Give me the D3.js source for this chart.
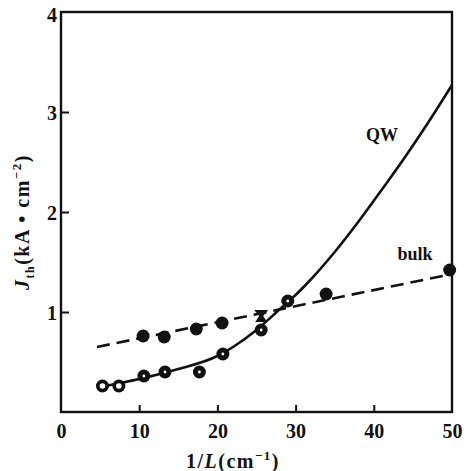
<!DOCTYPE html>
<html>
<head>
<meta charset="utf-8">
<script src="https://cdn.jsdelivr.net/npm/d3@7"></script>
<style>
    body { margin: 0; background: #fff; }
    svg text { font-family: "Liberation Serif", "DejaVu Serif", serif; fill: #111; }
</style>
</head>
<body>
<svg id="chart" width="466" height="471"></svg>
<script>
// QW measured points (1/L, Jth)
const qwX = [5.3, 7.4, 10.6, 13.3, 17.7, 20.7, 25.6, 29.0];
const qwY = [0.26, 0.26, 0.36, 0.40, 0.40, 0.58, 0.82, 1.11];
const qwOpen = [true, true, false, false, false, false, false, false];

// QW fitted curve
const qwCurveX = [5, 10, 15, 20, 22, 25, 28, 30, 32, 35, 38, 41, 44, 47, 50];
const qwCurveY = [0.25, 0.33, 0.43, 0.56, 0.65, 0.82, 1.03, 1.17, 1.33, 1.60, 1.90, 2.22, 2.55, 2.90, 3.27];

// bulk points and dashed line
const bulkX = [10.5, 13.2, 17.3, 20.6, 25.6, 33.9, 49.7];
const bulkY = [0.76, 0.75, 0.83, 0.89, 0.96, 1.18, 1.42];
const bulkHourglass = [false, false, false, false, true, false, false];
const bulkLineX = [4.6, 50];
const bulkLineY = [0.65, 1.38];

const xTicks = [0, 10, 20, 30, 40, 50];
const yTicks = [1, 2, 3, 4];

const svg = d3.select('#chart');
const x = d3.scaleLinear().domain([0, 50]).range([61, 452]);
const y = d3.scaleLinear().domain([0, 4]).range([412, 12]);

// frame
svg.append('rect')
    .attr('x', x(0)).attr('y', y(4))
    .attr('width', x(50) - x(0)).attr('height', y(0) - y(4))
    .attr('fill', 'none').attr('stroke', '#111').attr('stroke-width', 2.4);

// y axis
const yAxis = svg.append('g')
    .attr('transform', 'translate(' + x(0) + ',0)')
    .call(d3.axisLeft(y).tickValues(yTicks).tickFormat(d3.format('d'))
        .tickSizeInner(-8).tickSizeOuter(0).tickPadding(13));
yAxis.select('.domain').remove();
yAxis.selectAll('.tick line').attr('stroke', '#111').attr('stroke-width', 2)
    .attr('display', d => d === 4 ? 'none' : null);
yAxis.selectAll('.tick text')
    .style('font-size', '20px').style('font-weight', 'bold')
    .attr('dy', d => d === 4 ? '0.45em' : '0.35em')
    .attr('x', -4);

// x axis
const xAxis = svg.append('g')
    .attr('transform', 'translate(0,' + y(0) + ')')
    .call(d3.axisBottom(x).tickValues(xTicks).tickFormat(d3.format('d'))
        .tickSizeInner(-7).tickSizeOuter(0).tickPadding(12));
xAxis.select('.domain').remove();
xAxis.selectAll('.tick line').attr('stroke', '#111').attr('stroke-width', 2)
    .attr('display', d => (d === 0 || d === 50) ? 'none' : null);
xAxis.selectAll('.tick text')
    .style('font-size', '20px').style('font-weight', 'bold');

// axis titles
svg.append('text')
    .attr('x', 233).attr('y', 468)
    .attr('text-anchor', 'middle')
    .style('font-size', '20px').style('font-weight', 'bold').style('letter-spacing', '1.5px')
    .html('1/<tspan font-style="italic">L</tspan>(cm<tspan dy="-8" font-size="13px">−1</tspan><tspan dy="8">)</tspan>');

svg.append('text')
    .attr('transform', 'translate(29,222) rotate(-90)')
    .attr('text-anchor', 'middle')
    .style('font-size', '20px').style('font-weight', 'bold').style('letter-spacing', '1.5px')
    .html('<tspan font-style="italic">J</tspan><tspan dy="5" font-size="12px">th</tspan><tspan dy="-5">(kA • cm</tspan><tspan dy="-8" font-size="13px">−2</tspan><tspan dy="8">)</tspan>');

// bulk dashed line
svg.append('path')
    .datum(bulkLineX.map((d, i) => [d, bulkLineY[i]]))
    .attr('d', d3.line().x(d => x(d[0])).y(d => y(d[1])))
    .attr('fill', 'none').attr('stroke', '#111')
    .attr('stroke-width', 2.6).attr('stroke-dasharray', '13,7');

// QW solid curve
svg.append('path')
    .datum(qwCurveX.map((d, i) => [d, qwCurveY[i]]))
    .attr('d', d3.line().x(d => x(d[0])).y(d => y(d[1])).curve(d3.curveMonotoneX))
    .attr('fill', 'none').attr('stroke', '#111').attr('stroke-width', 2.6);

// bulk markers
const bulkPts = bulkX.map((d, i) => ({x: d, y: bulkY[i], hg: bulkHourglass[i]}));
svg.append('g').selectAll('circle')
    .data(bulkPts.filter(d => !d.hg))
    .enter().append('circle')
    .attr('cx', d => x(d.x)).attr('cy', d => y(d.y))
    .attr('r', 6.5).attr('fill', '#111');

svg.append('g').selectAll('path')
    .data(bulkPts.filter(d => d.hg))
    .enter().append('path')
    .attr('transform', d => 'translate(' + x(d.x) + ',' + y(d.y) + ')')
    .attr('d', 'M-7,-6L7,-6L2,0L6,6L-6,6L-2,0Z')
    .attr('fill', '#111');

// QW markers
const qwPts = qwX.map((d, i) => ({x: d, y: qwY[i], open: qwOpen[i]}));
const qwG = svg.append('g');
qwG.selectAll('circle.ring')
    .data(qwPts)
    .enter().append('circle')
    .attr('class', 'ring')
    .attr('cx', d => x(d.x)).attr('cy', d => y(d.y))
    .attr('r', 6.5).attr('fill', '#111');
qwG.selectAll('circle.hole')
    .data(qwPts)
    .enter().append('circle')
    .attr('class', 'hole')
    .attr('cx', d => x(d.x)).attr('cy', d => y(d.y))
    .attr('r', d => d.open ? 2.8 : 1.4).attr('fill', '#fff');

// curve labels
svg.append('text')
    .attr('x', 382).attr('y', 141)
    .attr('text-anchor', 'middle')
    .style('font-size', '18px').style('font-weight', 'bold')
    .text('QW');
svg.append('text')
    .attr('x', 415).attr('y', 260)
    .attr('text-anchor', 'middle')
    .style('font-size', '18px').style('font-weight', 'bold')
    .text('bulk');
</script>
</body>
</html>
